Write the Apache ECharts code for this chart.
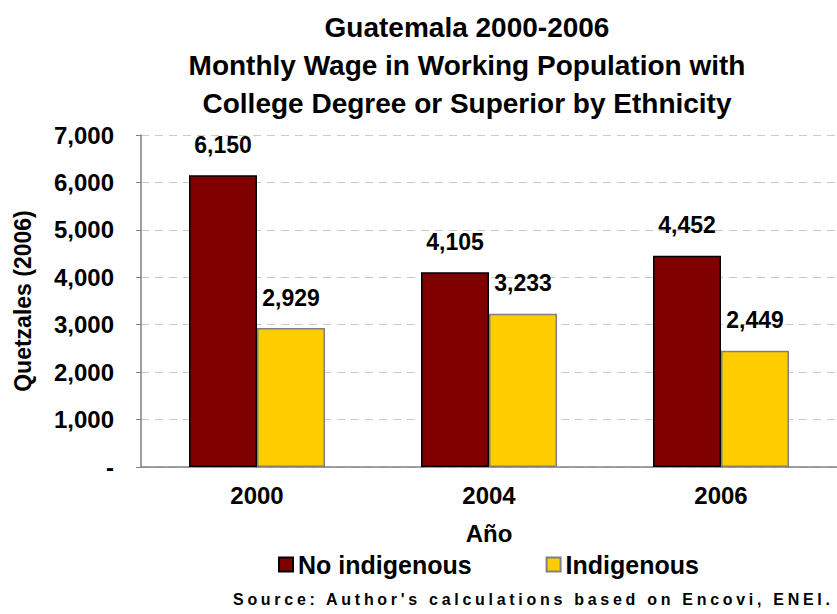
<!DOCTYPE html>
<html lang="en">
<head>
    <meta charset="UTF-8">
    <script src="https://cdn.jsdelivr.net/npm/echarts@6/dist/echarts.min.js"></script>
    <style>
        html, body { margin: 0; padding: 0; background: #fff; }
        #main { width: 837px; height: 614px; }
    </style>
    <title>Guatemala wages</title>
</head>
<body>
    <div id="main"></div>
<script type="text/javascript">
    var years = ['2000', '2004', '2006'];
    var noIndigenous = [6150, 4105, 4452];
    var indigenous = [2929, 3233, 2449];
    var seriesNames = ['No indigenous', 'Indigenous'];

    var font = 'Liberation Sans, Arial, sans-serif';

    function fmt(v) {
        if (v === 0) return '-';
        return v.toLocaleString('en-US');
    }

    var chartDom = document.getElementById('main');
    var myChart = echarts.init(chartDom, null, {renderer: 'svg'});
    var option;

    option = {
        animation: false,
        title: {
            text: 'Guatemala 2000-2006\nMonthly Wage in Working Population with\nCollege Degree or Superior by Ethnicity',
            left: 462,
            top: 3,
            textAlign: 'center',
            textStyle: {
                fontFamily: font,
                fontWeight: 'bold',
                fontSize: 28,
                lineHeight: 38,
                color: '#000'
            }
        },
        legend: {
            data: seriesNames,
            left: 273,
            top: 547,
            itemWidth: 14,
            itemHeight: 14,
            itemGap: 74,
            icon: 'rect',
            textStyle: {
                fontFamily: font,
                fontWeight: 'bold',
                fontSize: 25,
                color: '#000'
            }
        },
        grid: {
            left: 141,
            right: -9,
            top: 135,
            bottom: 147
        },
        xAxis: {
            type: 'category',
            data: years,
            name: 'Año',
            nameLocation: 'middle',
            nameGap: 54,
            nameTextStyle: {
                fontFamily: font,
                fontWeight: 'bold',
                fontSize: 24,
                color: '#000'
            },
            axisLine: {lineStyle: {color: '#808080', width: 1.5}},
            axisTick: {length: 6, lineStyle: {color: '#808080'}},
            axisLabel: {
                margin: 16,
                fontFamily: font,
                fontWeight: 'bold',
                fontSize: 24,
                color: '#000'
            }
        },
        yAxis: {
            type: 'value',
            min: 0,
            max: 7000,
            interval: 1000,
            name: 'Quetzales (2006)',
            nameLocation: 'middle',
            nameGap: 107,
            nameRotate: 90,
            nameTextStyle: {
                fontFamily: font,
                fontWeight: 'bold',
                fontSize: 23,
                color: '#000'
            },
            axisLine: {show: true, lineStyle: {color: '#808080', width: 1.5}},
            axisTick: {show: true, length: 5, lineStyle: {color: '#808080'}},
            axisLabel: {
                margin: 27,
                formatter: fmt,
                fontFamily: font,
                fontWeight: 'bold',
                fontSize: 24,
                color: '#000'
            },
            splitLine: {lineStyle: {color: '#c8c8c8', type: [8, 6]}}
        },
        series: [
            {
                name: seriesNames[0],
                type: 'bar',
                data: noIndigenous,
                barWidth: 68,
                barGap: '0%',
                itemStyle: {color: '#800000', borderColor: '#000', borderWidth: 1.5},
                label: {
                    show: true,
                    position: 'top',
                    distance: 19,
                    formatter: function (p) { return fmt(p.value); },
                    fontFamily: font,
                    fontWeight: 'bold',
                    fontSize: 23,
                    color: '#000'
                }
            },
            {
                name: seriesNames[1],
                type: 'bar',
                data: indigenous,
                barWidth: 68,
                barGap: '0%',
                itemStyle: {color: '#FFCC00', borderColor: '#808080', borderWidth: 1.5},
                label: {
                    show: true,
                    position: 'top',
                    distance: 19,
                    formatter: function (p) { return fmt(p.value); },
                    fontFamily: font,
                    fontWeight: 'bold',
                    fontSize: 23,
                    color: '#000'
                }
            }
        ],
        graphic: [
            {
                type: 'text',
                left: 233,
                top: 591,
                style: {
                    text: "Source: Author's calculations based on Encovi, ENEI.",
                    fontFamily: font,
                    fontWeight: 'bold',
                    fontSize: 16,
                    fill: '#000'
                }
            }
        ]
    };
    option && myChart.setOption(option);

    // spread the source line out to the same width as the original (233 -> 830)
    var texts = chartDom.querySelectorAll('text');
    for (var i = 0; i < texts.length; i++) {
        var t = texts[i];
        if (t.textContent.indexOf('Source:') === 0) {
            var natural = t.getComputedTextLength();
            var n = t.textContent.length;
            var sp = Math.max(0, (597 - natural) / (n - 1));
            t.style.letterSpacing = sp.toFixed(2) + 'px';
        }
    }
</script>
</body>
</html>
